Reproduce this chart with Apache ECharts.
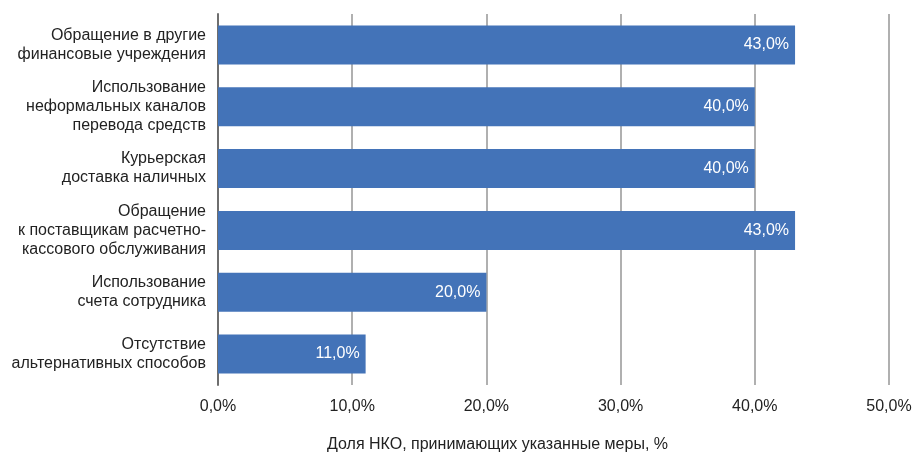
<!DOCTYPE html>
<html><head><meta charset="utf-8">
<script src="https://cdn.jsdelivr.net/npm/echarts@6/dist/echarts.min.js"></script>
<style>html,body{margin:0;padding:0;background:#fff}#c{width:915px;height:457px}</style>
</head><body><div id="c"></div>
<script>
var categories = [
  "Обращение в другие\nфинансовые учреждения",
  "Использование\nнеформальных каналов\nперевода средств",
  "Курьерская\nдоставка наличных",
  "Обращение\nк поставщикам расчетно-\nкассового обслуживания",
  "Использование\nсчета сотрудника",
  "Отсутствие\nальтернативных способов"
];
var values = [43, 40, 40, 43, 20, 11];
var axisTitle = "Доля НКО, принимающих указанные меры, %";

function pct(v){ return v.toFixed(1).replace('.', ',') + '%'; }

var chart = echarts.init(document.getElementById('c'));
chart.setOption({
  animation: false,
  textStyle: {fontFamily: "Liberation Sans, Arial, sans-serif"},
  grid: {left: 218, right: 26, top: 14, bottom: 72, containLabel: false},
  graphic: [{
    type: 'text', left: 327, top: 437,
    style: {text: axisTitle, fontSize: 16, fill: '#222', fontFamily: "Liberation Sans, Arial, sans-serif"}
  }],
  xAxis: {
    type: 'value', min: 0, max: 50, interval: 10,
    axisLine: {show: false}, axisTick: {show: false},
    axisLabel: {fontSize: 16, color: '#222', margin: 14, formatter: pct},
    splitLine: {show: true, lineStyle: {color: '#b0b0b0', width: 2}}
  },
  yAxis: {
    type: 'category', data: categories, inverse: true,
    axisLine: {show: true, lineStyle: {color: '#6e6e6e', width: 2}},
    axisTick: {show: false},
    axisLabel: {fontSize: 16, color: '#222', margin: 12, lineHeight: 19, align: 'right'}
  },
  series: [{
    type: 'bar', data: values, barCategoryGap: '37%',
    itemStyle: {color: '#4373b8'},
    label: {show: true, position: 'insideRight', color: '#fff', fontSize: 16, distance: 6,
      formatter: function(p){ return pct(p.value); }}
  }]
});
</script></body></html>
